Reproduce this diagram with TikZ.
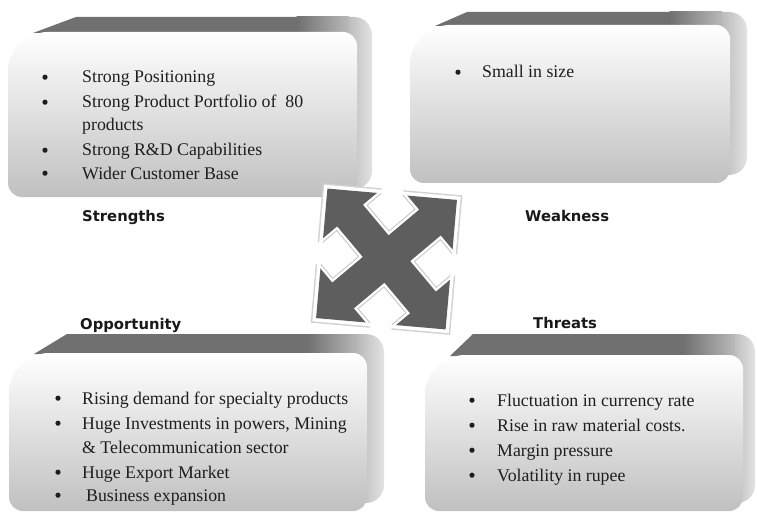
\documentclass[tikz,border=0pt]{standalone}
\usepackage{fontspec}
\setmainfont{Liberation Serif}
\newfontfamily\lblfont{DejaVu Sans}
\definecolor{bandgray}{HTML}{707070}
\definecolor{facebot}{HTML}{C0C0C0}
\definecolor{arrowgray}{HTML}{5E5E5E}
\definecolor{txtgray}{HTML}{1E1E1E}
\tikzset{
  itm/.style={anchor=base west, inner sep=0pt, font=\fontsize{17.8}{20}\selectfont, text=txtgray},
  bul/.style={circle, fill=txtgray, inner sep=0pt, minimum size=5.2pt},
  lbl/.style={anchor=base west, inner sep=0pt, font=\lblfont\bfseries\fontsize{14.8}{16}\selectfont, text=black!90}
}
% #1 face left, #2 face top, #3 face right, #4 face bottom, #5 band top, #6 outer right, #7 band top-left x
\newcommand\bevelbox[7]{%
  \shade[left color=gray!80, right color=gray!22, rounded corners=18pt]
     (#3-30,#5) -- (#6,#5) -- (#6,#4-8) -- (#3-30,#4-8) -- cycle;
  \fill[bandgray] (#1+25,#2+1) -- (#7,#5) -- (#3-60,#5) -- (#3-60,#2+1) -- cycle;
  \shade[left color=bandgray, right color=gray!55] (#3-60.5,#5) rectangle (#3-8,#2+1);
  \shade[top color=white, bottom color=facebot, rounded corners=14pt]
     (#1+25,#2) -- (#3,#2) -- (#3,#4) -- (#1,#4) -- (#1,#2+24) -- cycle;
}
\newcommand\bul[3]{\node[bul] (#1) at (#2,#3-5.8) {};}
\begin{document}
\begin{tikzpicture}[x=1pt,y=-1pt]
\useasboundingbox (0,0) rectangle (757,513);
\fill[white] (0,0) rectangle (757,513);

% boxes
\bevelbox{8}{32}{357}{197}{17}{372}{76}
\bevelbox{410}{25}{730}{183}{12}{747}{467}
\bevelbox{9}{353}{367}{511}{334}{384}{67}
\bevelbox{425}{355}{743}{511}{334}{755}{473}

% central quad arrow
\begin{scope}[shift={(386.5,259)}, rotate=-5]
  \fill[gray!35] (-70,-70) rectangle (70,70);
  \fill[white] (-68.5,-68.5) rectangle (68.5,68.5);
  \fill[arrowgray] (-65,-65) rectangle (65,65);
  \foreach \a in {0,90,180,270}{
    \begin{scope}[rotate=\a]
      \fill[white] (0,-80) -- (28,-52) -- (0,-24) -- (-28,-52) -- cycle;
      \begin{scope}
        \clip (-65,-65) rectangle (65,65);
        \draw[gray!45, line width=0.9pt] (0,-76) -- (24,-52) -- (0,-28) -- (-24,-52) -- cycle;
      \end{scope}
    \end{scope}
  }
\end{scope}

% Strengths
\bul{sb1}{45}{83}
\node[itm] (s1) at (82,83) {Strong Positioning};
\bul{sb2}{45}{108}
\node[itm] (s2) at (82,108) {Strong Product Portfolio of \ 80};
\node[itm] (s2b) at (82,131) {products};
\bul{sb3}{45}{156}
\node[itm] (s3) at (82,156) {Strong R\&D Capabilities};
\bul{sb4}{45}{179}
\node[itm] (s4) at (82,179) {Wider Customer Base};
\node[lbl] (ls) at (82,222) {Strengths};

% Weakness
\bul{wb1}{458}{78}
\node[itm] (w1) at (482,78) {Small in size};
\node[lbl] (lw) at (525,222) {Weakness};

% Opportunity
\node[lbl] (lo) at (80,329) {Opportunity};
\bul{ob1}{58}{404}
\node[itm] (o1) at (82,404) {Rising demand for specialty products};
\bul{ob2}{58}{429}
\node[itm] (o2) at (82,429) {Huge Investments in powers, Mining};
\node[itm] (o2b) at (82,453) {\& Telecommunication sector};
\bul{ob3}{58}{478}
\node[itm] (o3) at (82,478) {Huge Export Market};
\bul{ob4}{58}{501}
\node[itm] (o4) at (86,501) {Business expansion};

% Threats
\node[lbl] (lt) at (533,328) {Threats};
\bul{tb1}{472}{406}
\node[itm] (t1) at (497,406) {Fluctuation in currency rate};
\bul{tb2}{472}{431}
\node[itm] (t2) at (497,431) {Rise in raw material costs.};
\bul{tb3}{472}{456}
\node[itm] (t3) at (497,456) {Margin pressure};
\bul{tb4}{472}{481}
\node[itm] (t4) at (497,481) {Volatility in rupee};
\end{tikzpicture}
\end{document}
